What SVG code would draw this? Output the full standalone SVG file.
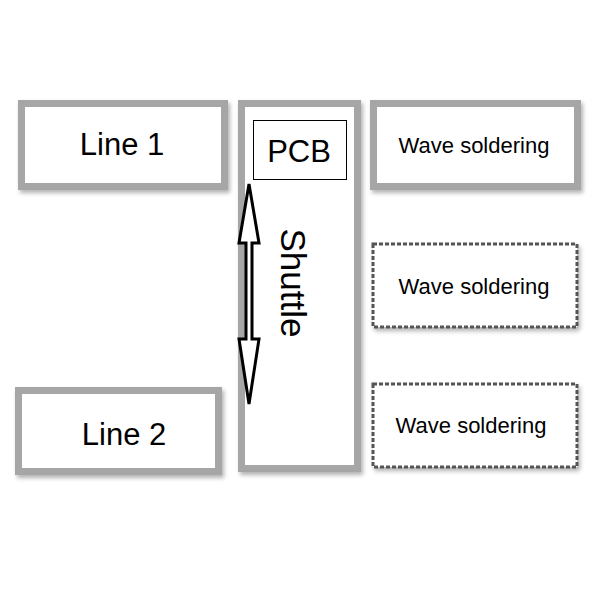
<svg xmlns="http://www.w3.org/2000/svg" width="600" height="600" viewBox="0 0 600 600">
<defs>
<filter id="sh" x="-10%" y="-10%" width="130%" height="130%"><feDropShadow dx="2" dy="3" stdDeviation="2" flood-color="#000" flood-opacity="0.3"/></filter>
</defs>
<style>
.box{fill:#fff;stroke:#a6a6a6;stroke-width:7;filter:url(#sh)}
.dash{fill:#fff;stroke:#555;stroke-width:3;stroke-dasharray:4 2;filter:url(#sh)}
text{font-family:"Liberation Sans",Arial,sans-serif;fill:#000;text-anchor:middle}
</style>
<rect width="600" height="600" fill="#fff"/>
<g id="line1"><rect class="box" x="21.5" y="103.5" width="203" height="83"/><text x="122" y="155" font-size="31">Line 1</text></g>
<g id="line2"><rect class="box" x="18.5" y="390.5" width="200" height="81"/><text x="124" y="445" font-size="31">Line 2</text></g>
<g id="shuttle"><rect class="box" x="241.5" y="103.5" width="116" height="365"/><text transform="translate(281,283) rotate(90)" font-size="35">Shuttle</text></g>
<g id="pcb"><rect x="253.5" y="120.5" width="93" height="59" fill="#fff" stroke="#000" stroke-width="1"/><text x="299" y="162" font-size="31">PCB</text></g>
<g id="wave1"><rect class="box" x="373.5" y="103.5" width="204" height="83"/><text x="474" y="153" font-size="22">Wave soldering</text></g>
<g id="wave2"><rect class="dash" x="373" y="244" width="204" height="83"/><text x="474" y="294" font-size="22">Wave soldering</text></g>
<g id="wave3"><rect class="dash" x="373" y="384" width="204" height="83"/><text x="471" y="433" font-size="22">Wave soldering</text></g>
<g id="connectors"><polygon points="249,184 259,243 252,243 252,339 259,339 249,404 239,339 246,339 246,243 239,243" fill="#fff" stroke="#000" stroke-width="3" stroke-linejoin="miter"/></g>
</svg>
